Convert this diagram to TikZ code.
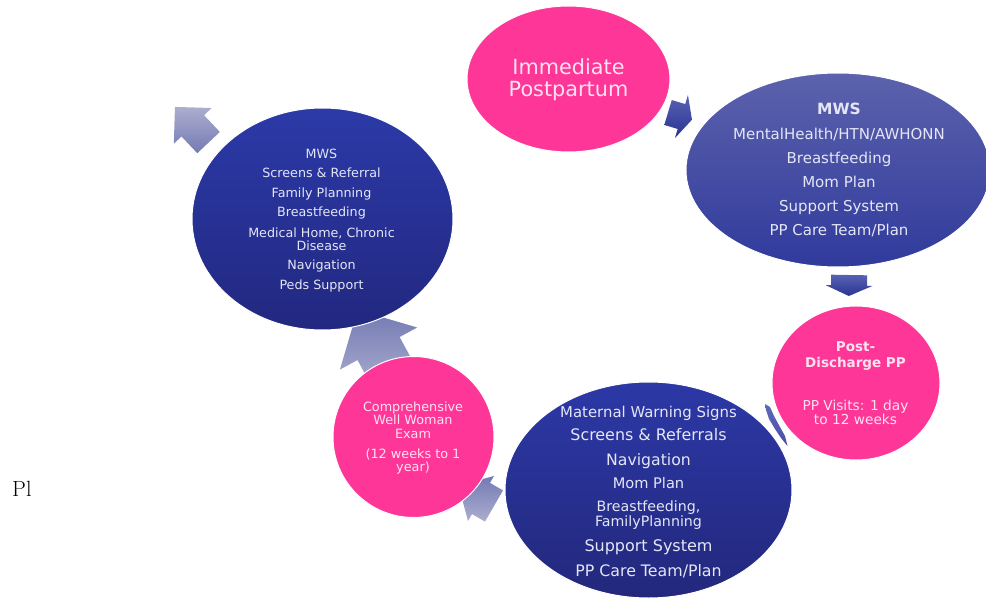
\documentclass[tikz,border=0pt]{standalone}
\usepackage{fontspec}
\newfontfamily\vf{DejaVu Sans}
\usetikzlibrary{shapes.geometric}
\definecolor{mypink}{RGB}{253,54,151}
\definecolor{ptxt}{RGB}{255,226,240}
\definecolor{btxt}{RGB}{228,230,246}
\definecolor{lAtop}{RGB}{44,58,168}
\definecolor{lAbot}{RGB}{34,40,128}
\definecolor{rAtop}{RGB}{92,98,172}
\definecolor{rAbot}{RGB}{48,58,156}
\definecolor{bAtop}{RGB}{44,56,166}
\definecolor{bAbot}{RGB}{35,40,124}
\definecolor{dkA}{RGB}{88,98,178}
\definecolor{dkB}{RGB}{42,52,148}
\definecolor{ltA}{RGB}{172,174,206}
\definecolor{ltB}{RGB}{116,122,180}
\tikzset{
  darkarrow/.style={top color=dkA, bottom color=dkB},
  lightarrow/.style={top color=ltA, bottom color=ltB},
  lightarrowinv/.style={top color=ltB, bottom color=ltA},
  pinkshape/.style={fill=mypink, draw=white, line width=1pt, inner sep=0pt},
  blueshape/.style={ellipse, draw=white, line width=1pt, inner sep=0pt},
  lt/.style={font=\vf\fontsize{12.7}{13}\selectfont, text=btxt, anchor=base, inner sep=0pt},
  rt/.style={font=\vf\fontsize{15}{18}\selectfont, text=btxt, anchor=base, inner sep=0pt},
  bt/.style={font=\vf\fontsize{#1}{18}\selectfont, text=btxt, anchor=base, inner sep=0pt},
  pt/.style={font=\vf\fontsize{#1}{16}\selectfont, text=ptxt, anchor=base, inner sep=0pt},
}
\begin{document}
\begin{tikzpicture}[x=1pt,y=-1pt]
\path[use as bounding box] (0,0) rectangle (986,599);
\clip (0,0) rectangle (986,599);

% block arrows (drawn beneath the shapes)
\begin{scope}[shift={(191.75,124.75)}, rotate=133.3]
  \shade[lightarrow] (-24.5,-15.5) -- (-1.5,-15.5) -- (-1.5,-26) -- (24.5,0) -- (-1.5,26) -- (-1.5,15.5) -- (-24.5,15.5) -- cycle;
\end{scope}
\begin{scope}[shift={(376.4,344.6)}, rotate=118.6]
  \shade[lightarrowinv] (-39.5,-24) -- (-4.5,-24) -- (-4.5,-44) -- (39.5,0) -- (-4.5,44) -- (-4.5,24) -- (-39.5,24) -- cycle;
\end{scope}
\begin{scope}[shift={(476.25,495.75)}, rotate=150]
  \shade[lightarrowinv] (-20.5,-18) -- (-5.5,-18) -- (-5.5,-26) -- (20.5,0) -- (-5.5,26) -- (-5.5,18) -- (-20.5,18) -- cycle;
\end{scope}
% thin sliver arrow between Post-Discharge and bottom ellipse
\shade[top color={rgb,255:red,96;green,104;blue,184}, bottom color={rgb,255:red,70;green,80;blue,168}]
  (765,404) -- (770,407) -- (774,416) -- (780,427) -- (785,436) -- (787.5,446) -- (781,438) -- (775,429) -- (769,419) -- (766,410) -- cycle;
\begin{scope}[shift={(849,285.5)}, rotate=-91]
  \shade[darkarrow] (-10.5,-18) -- (0,-18) -- (0,-23.5) -- (10.5,0) -- (0,23.5) -- (0,18) -- (-10.5,18) -- cycle;
\end{scope}
\begin{scope}[shift={(680,116.1)}, rotate=-16.8]
  \shade[darkarrow] (-12.5,-13) -- (1.5,-13) -- (1.5,-22.5) -- (12.5,0) -- (1.5,22.5) -- (1.5,13) -- (-12.5,13) -- cycle;
\end{scope}

% shapes
\node[pinkshape, ellipse, minimum width=203pt, minimum height=146pt] (imm) at (568.5,79) {};
\node[blueshape, top color=rAtop, bottom color=rAbot, minimum width=304pt, minimum height=194pt] (mwsR) at (838,170) {};
\node[pinkshape, ellipse, minimum width=168pt, minimum height=154pt] (post) at (856,383) {};
\node[blueshape, top color=bAtop, bottom color=bAbot, minimum width=287pt, minimum height=216pt] (bot) at (648.5,490) {};
\node[pinkshape, circle, minimum size=161pt] (comp) at (413.5,437) {};
\node[blueshape, top color=lAtop, bottom color=lAbot, minimum width=261pt, minimum height=222pt] (mwsL) at (322.5,219) {};

% texts: Immediate Postpartum
\node[pt=20.8] (i1) at (568.5,75) {Immediate};
\node[pt=20.8] (i2) at (568.5,96.5) {Postpartum};

% right ellipse
\node[rt, font=\vf\bfseries\fontsize{15.5}{18}\selectfont] (r1) at (839,115) {MWS};
\node[rt] (r2) at (839,140) {MentalHealth/HTN/AWHONN};
\node[rt] (r3) at (839,163.5) {Breastfeeding};
\node[rt] (r4) at (839,187.5) {Mom Plan};
\node[rt] (r5) at (839,211.5) {Support System};
\node[rt] (r6) at (839,236) {PP Care Team/Plan};

% post-discharge
\node[pt=13.5, font=\vf\bfseries\fontsize{13.5}{16}\selectfont] (p1) at (855.5,351.7) {Post-};
\node[pt=13.5, font=\vf\bfseries\fontsize{13.5}{16}\selectfont] (p2) at (855.5,367) {Discharge PP};
\node[pt=13.7] (p3) at (855.5,410) {PP Visits: 1 day};
\node[pt=13.7] (p4) at (855.5,424) {to 12 weeks};

% bottom ellipse
\node[bt=14.9] (b1) at (648.5,417) {Maternal Warning Signs};
\node[bt=15.9] (b2) at (648.5,440) {Screens \& Referrals};
\node[bt=15.7] (b3) at (648.5,465) {Navigation};
\node[bt=14.6] (b4) at (648.5,488) {Mom Plan};
\node[bt=14.2] (b5) at (648.5,511.7) {Breastfeeding,};
\node[bt=14.2] (b6) at (648.5,526.7) {FamilyPlanning};
\node[bt=16] (b7) at (648.5,551.7) {Support System};
\node[bt=15.8] (b8) at (648.5,576.5) {PP Care Team/Plan};

% comprehensive
\node[pt=12.8] (c1) at (413,411) {Comprehensive};
\node[pt=12.8] (c2) at (413,424.5) {Well Woman};
\node[pt=12.8] (c3) at (413,438) {Exam};
\node[pt=12.8] (c4) at (413,458) {(12 weeks to 1};
\node[pt=12.8] (c5) at (413,471) {year)};

% left ellipse
\node[lt] (l1) at (321.5,159) {MWS};
\node[lt] (l2) at (321.5,178) {Screens \& Referral};
\node[lt] (l3) at (321.5,198) {Family Planning};
\node[lt] (l4) at (321.5,217) {Breastfeeding};
\node[lt] (l5) at (321.5,237) {Medical Home, Chronic};
\node[lt] (l6) at (321.5,250) {Disease};
\node[lt] (l7) at (321.5,269.5) {Navigation};
\node[lt] (l8) at (321.5,289) {Peds Support};

% stray text
\node[anchor=base west, inner sep=0pt, font=\fontsize{22}{26}\selectfont] (pl) at (12,496) {Pl};
\end{tikzpicture}
\end{document}
